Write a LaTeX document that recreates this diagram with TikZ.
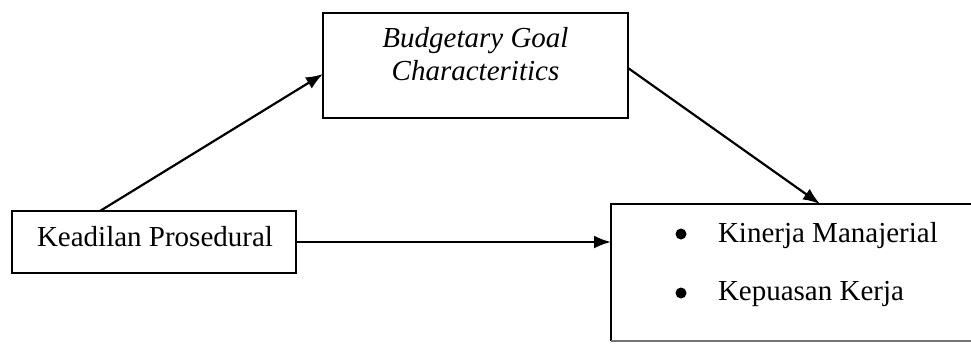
\documentclass[tikz,border=0pt]{standalone}
\usepackage{fontspec}
\setmainfont{Liberation Serif}
\usetikzlibrary{arrows.meta}
\begin{document}
\begin{tikzpicture}[x=1pt,y=-1pt,
  box/.style={draw=black,line width=2.2pt,inner sep=0pt,outer sep=0pt,rectangle},
  lbl/.style={inner sep=0pt,outer sep=0pt,anchor=base,font=\fontsize{29}{33}\selectfont},
  conn/.style={line width=2.2pt,-{Latex[length=17pt,width=13pt]}},
  dot/.style={circle,fill=black,inner sep=0pt,minimum size=11pt}]
\clip (0,0) rectangle (971,343);
\fill[white] (0,0) rectangle (971,343);
% boxes
\node[box,minimum width=305pt,minimum height=105pt] (tb) at (475.5,65.5) {};
\node[box,minimum width=284pt,minimum height=62pt] (lb) at (154,242) {};
\node[inner sep=0pt,outer sep=0pt,minimum width=400pt,minimum height=137pt] (rb) at (811,272.5) {};
\draw[line width=2.2pt] (rb.south west) -- (rb.north west) -- (rb.north east);
\draw[line width=1.2pt,black!55] (rb.south west) -- (rb.south east);
% texts
\node[lbl,font=\fontsize{29}{33}\selectfont\itshape] (t1) at (475.5,47) {Budgetary Goal};
\node[lbl,font=\fontsize{29}{33}\selectfont\itshape] (t2) at (475.5,80) {Characteritics};
\node[lbl] (t3) at (155,246) {Keadilan Prosedural};
\node[dot] (d1) at (681,234) {};
\node[dot] (d2) at (681,293) {};
\node[lbl,anchor=base west] (t4) at (718,242) {Kinerja Manajerial};
\node[lbl,anchor=base west] (t5) at (718,300) {Kepuasan Kerja};
% connectors
\draw[conn] ([xshift=-54pt]lb.north) -- ([yshift=-8.5pt]tb.west);
\draw[conn] ([yshift=-2.5pt]tb.east) -- ([xshift=209pt]rb.north west);
\draw[conn] (lb.east) -- (lb.east -| rb.west);
\end{tikzpicture}
\end{document}
